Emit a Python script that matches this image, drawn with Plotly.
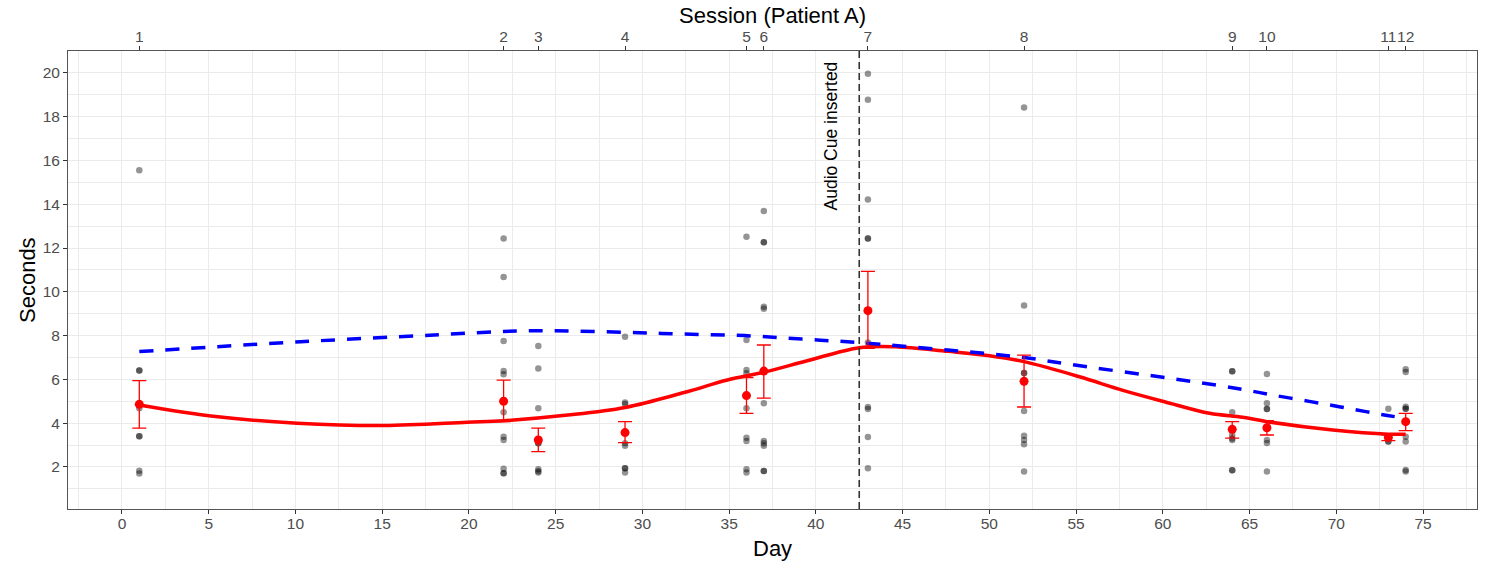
import plotly.graph_objects as go

# ---- data ----
session_days = [1, 22, 24, 29, 36, 37, 43, 52, 64, 66, 73, 74]
session_labels = ["1", "2", "3", "4", "5", "6", "7", "8", "9", "10", "11", "12"]

obs_day1 = [15.55, 6.41, 6.41, 4.68, 3.40, 3.40, 1.83, 1.70]
obs_day22 = [12.44, 10.68, 7.75, 6.38, 6.23, 4.50, 3.38, 3.23, 1.92, 1.71, 1.71]
obs_day24 = [7.52, 6.50, 4.68, 3.08, 3.08, 1.90, 1.80, 1.75]
obs_day29 = [7.95, 4.94, 4.88, 3.08, 2.97, 1.94, 1.94, 1.75]
obs_day36 = [12.52, 7.80, 6.43, 6.28, 4.68, 3.34, 3.19, 1.90, 1.75]
obs_day37 = [13.69, 12.27, 12.27, 9.32, 9.23, 4.91, 3.19, 3.08, 2.97, 1.82, 1.82]
obs_day43 = [19.96, 18.77, 14.22, 12.43, 12.43, 7.69, 4.74, 4.65, 3.37, 1.94]
obs_day52 = [18.42, 9.37, 6.29, 6.29, 4.56, 3.43, 3.23, 3.04, 1.79]
obs_day64 = [6.37, 6.37, 4.50, 3.46, 3.30, 3.23, 1.85, 1.85]
obs_day66 = [6.25, 4.91, 4.65, 4.65, 3.23, 3.10, 1.79]
obs_day73 = [4.66, 3.38, 3.16, 3.16]
obs_day74 = [6.46, 6.34, 4.75, 4.66, 4.66, 3.38, 3.16, 1.86, 1.79]

session_means = [4.86, 5.00, 3.23, 3.57, 5.26, 6.38, 9.14, 5.91, 3.72, 3.79, 3.35, 4.07]
session_upper = [5.94, 5.97, 3.77, 4.07, 6.08, 7.57, 10.93, 7.11, 4.07, 4.12, 3.47, 4.45]
session_lower = [3.77, 4.07, 2.70, 3.11, 4.45, 5.14, 7.42, 4.74, 3.32, 3.46, 3.20, 3.66]

red_days = [1, 5.4, 10.1, 15.1, 19.9, 22, 25.7, 29, 32.4, 34.9, 37, 39.5, 42.5, 44.6, 47.6,
            50, 52, 55.2, 57.7, 60.1, 62.7, 64.6, 66, 69.8, 73, 74]
red_vals = [4.83, 4.30, 4.00, 3.89, 4.04, 4.11, 4.37, 4.72, 5.40, 5.97, 6.33, 6.85, 7.45, 7.49, 7.28,
            7.08, 6.81, 6.12, 5.50, 4.98, 4.45, 4.27, 4.07, 3.69, 3.50, 3.50]

blue_days = [1, 10.3, 18, 22.8, 25, 29, 32.4, 35.9, 39.2, 42.5, 47.6, 52, 54.6, 60.4, 63.3,
             64.9, 66.3, 67.9, 69.5, 71, 72.6, 74]
blue_vals = [7.27, 7.72, 8.03, 8.21, 8.22, 8.15, 8.07, 8.00, 7.84, 7.68, 7.34, 7.00, 6.69, 6.05, 5.71,
             5.50, 5.29, 5.07, 4.85, 4.63, 4.40, 4.22]

cue_day = 42.5
cue_label = "Audio Cue inserted"

x_title = "Day"
y_title = "Seconds"
top_title = "Session (Patient A)"

# ---- figure ----
obs_lists = [obs_day1, obs_day22, obs_day24, obs_day29, obs_day36, obs_day37,
             obs_day43, obs_day52, obs_day64, obs_day66, obs_day73, obs_day74]
px, py = [], []
for d, vals in zip(session_days, obs_lists):
    px += [d] * len(vals)
    py += vals

FONT = "Liberation Sans, Arial, sans-serif"
GRID = "#EBEBEB"
TICKC = "#4D4D4D"

fig = go.Figure()
fig.add_trace(go.Scatter(x=px, y=py, mode="markers",
                         marker=dict(color="rgba(0,0,0,0.42)", size=6.5),
                         hoverinfo="skip", showlegend=False))
fig.add_trace(go.Scatter(x=red_days, y=red_vals, mode="lines", line_shape="spline",
                         line=dict(color="#FF0000", width=3.5), showlegend=False))
fig.add_trace(go.Scatter(x=blue_days, y=blue_vals, mode="lines", line_shape="spline",
                         line=dict(color="#0000FF", width=3.5, dash="14px,12px"), showlegend=False))
err_plus = [u - m for u, m in zip(session_upper, session_means)]
err_minus = [m - l for m, l in zip(session_means, session_lower)]
fig.add_trace(go.Scatter(x=session_days, y=session_means, mode="markers",
                         marker=dict(color="#FF0000", size=9),
                         error_y=dict(type="data", array=err_plus, arrayminus=err_minus,
                                      color="#FF0000", thickness=1.3, width=7),
                         showlegend=False))
# invisible trace to carry the top axis
fig.add_trace(go.Scatter(x=session_days, y=session_means, xaxis="x2", mode="markers",
                         marker=dict(opacity=0), hoverinfo="skip", showlegend=False))

fig.add_shape(type="line", x0=cue_day, x1=cue_day, y0=0, y1=1, xref="x", yref="paper",
              line=dict(color="#333333", width=1.6, dash="7px,4px"))
fig.add_annotation(x=cue_day, y=20.6, xref="x", yref="y", text=cue_label, textangle=-90,
                   showarrow=False, xanchor="right", yanchor="top", xshift=-16,
                   font=dict(family=FONT, size=17.5, color="#000000"))

# axis titles
fig.add_annotation(x=0.5, y=0, xref="paper", yref="paper", text=x_title, showarrow=False,
                   xanchor="center", yanchor="middle", yshift=-39,
                   font=dict(family=FONT, size=22, color="#000000"))
fig.add_annotation(x=0, y=0.5, xref="paper", yref="paper", text=y_title, showarrow=False,
                   textangle=-90, xanchor="center", yanchor="middle", xshift=-41,
                   font=dict(family=FONT, size=22, color="#000000"))
fig.add_annotation(x=0.5, y=1, xref="paper", yref="paper", text=top_title, showarrow=False,
                   xanchor="center", yanchor="middle", yshift=36,
                   font=dict(family=FONT, size=22, color="#000000"))

xr = [-3.11, 78.11]
tickfont = dict(family=FONT, size=15.5, color=TICKC)
fig.update_layout(
    width=1486, height=562,
    margin=dict(l=68, r=9, t=51, b=53, autoexpand=False),
    paper_bgcolor="white", plot_bgcolor="white",
    font=dict(family=FONT, color="#000000"),
    xaxis=dict(range=xr, tickmode="linear", tick0=0, dtick=5, automargin=False, tickangle=0,
               showgrid=True, gridcolor=GRID, gridwidth=1.2,
               minor=dict(tick0=0, dtick=2.5, showgrid=True, gridcolor=GRID, gridwidth=0.6),
               ticks="outside", ticklen=4, tickcolor="#333333", tickwidth=1.1,
               tickfont=tickfont, ticklabelstandoff=-4,
               showline=True, linecolor="#555555", linewidth=1, mirror=True,
               zeroline=False),
    xaxis2=dict(range=xr, overlaying="x", side="top", anchor="y", automargin=False, tickangle=0,
                tickmode="array", tickvals=session_days, ticktext=session_labels,
                showgrid=False, zeroline=False,
                ticks="outside", ticklen=4, tickcolor="#333333", tickwidth=1.1,
                tickfont=tickfont, ticklabelstandoff=-2),
    yaxis=dict(range=[0.08, 21.0], tickmode="linear", tick0=2, dtick=2, automargin=False,
               showgrid=True, gridcolor=GRID, gridwidth=1.2,
               minor=dict(tick0=1, dtick=1, showgrid=True, gridcolor=GRID, gridwidth=0.6),
               ticks="outside", ticklen=4, tickcolor="#333333", tickwidth=1.1,
               tickfont=tickfont,
               showline=True, linecolor="#555555", linewidth=1, mirror=True,
               zeroline=False),
)

fig.write_html("out.html", config={"displayModeBar": False},
               post_script="document.body.style.margin='0';document.body.style.overflow='hidden';")
